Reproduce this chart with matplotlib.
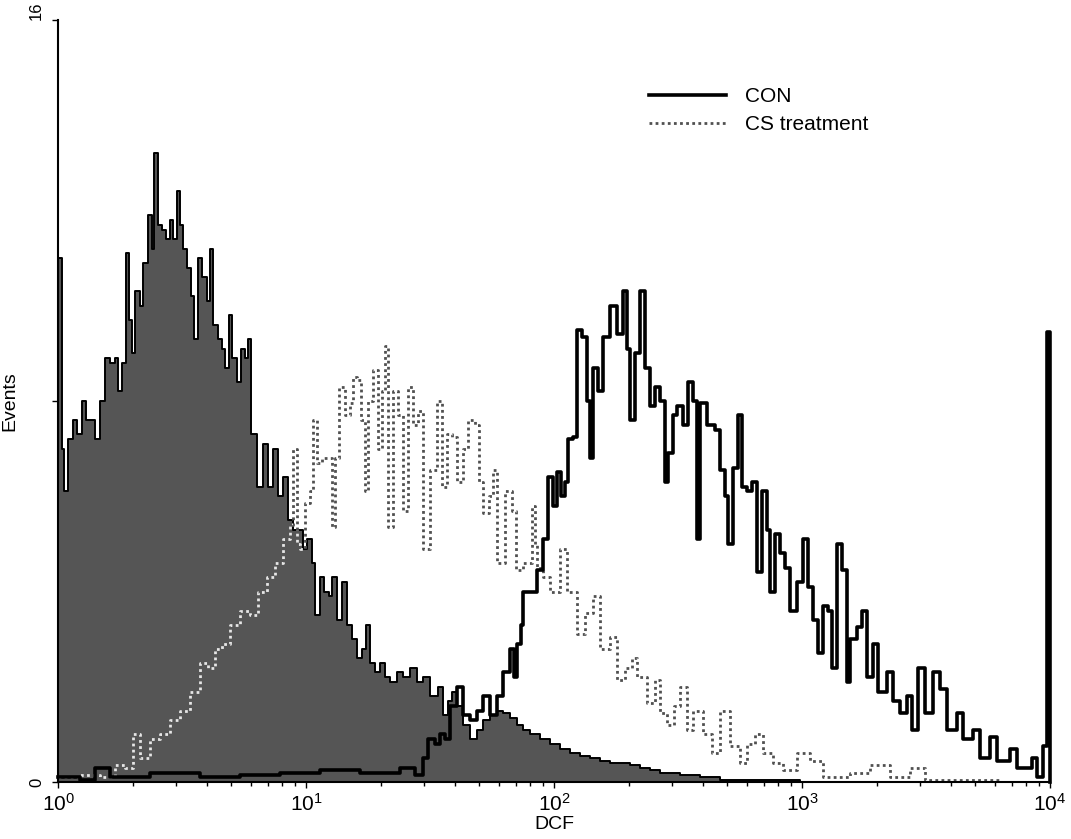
import numpy as np
import matplotlib
matplotlib.use('Agg')
import matplotlib.pyplot as plt
from matplotlib.ticker import LogLocator, NullFormatter

plt.rcParams['font.family'] = ['Liberation Sans', 'DejaVu Sans']
plt.rcParams['mathtext.fontset'] = 'custom'
plt.rcParams['mathtext.rm'] = 'Liberation Sans'

# histogram channels: left edge (log10 DCF) and events

# filled grey histogram (autofluorescence)
grey_logx = [0.000, 0.016, 0.024, 0.040, 0.060, 0.077, 0.097, 0.113, 0.129, 0.149,
             0.169, 0.190, 0.210, 0.230, 0.242, 0.258, 0.274, 0.286, 0.298, 0.310,
             0.331, 0.343, 0.363, 0.379, 0.387, 0.403, 0.419, 0.435, 0.452, 0.464,
             0.480, 0.492, 0.504, 0.520, 0.536, 0.548, 0.565, 0.581, 0.601, 0.613,
             0.625, 0.645, 0.661, 0.673, 0.690, 0.702, 0.722, 0.738, 0.754, 0.766,
             0.778, 0.802, 0.827, 0.847, 0.867, 0.887, 0.907, 0.927, 0.948, 0.968,
             0.988, 1.004, 1.024, 1.036, 1.056, 1.073, 1.093, 1.105, 1.125, 1.145,
             1.165, 1.185, 1.206, 1.226, 1.242, 1.258, 1.278, 1.298, 1.319, 1.339,
             1.367, 1.391, 1.419, 1.448, 1.472, 1.500, 1.532, 1.552, 1.573, 1.589,
             1.609, 1.633, 1.661, 1.690, 1.714, 1.742, 1.770, 1.794, 1.823, 1.851,
             1.875, 1.903, 1.944, 1.984, 2.024, 2.065, 2.105, 2.145, 2.185, 2.226,
             2.266, 2.306, 2.347, 2.387, 2.427, 2.508, 2.589, 2.669, 2.992]
grey_val = [11.0, 7.0, 6.1, 7.2, 7.6, 7.3, 8.0, 7.6, 7.6, 7.2,
            8.0, 8.9, 8.8, 8.9, 8.2, 8.8, 11.1, 9.7, 9.0, 10.3,
            10.0, 10.9, 11.9, 11.2, 13.2, 11.7, 11.6, 11.4, 11.8, 11.4,
            12.4, 11.7, 11.2, 10.8, 10.2, 9.3, 11.0, 10.6, 10.1, 11.2,
            9.6, 9.3, 9.1, 8.7, 9.8, 8.9, 8.4, 9.1, 8.9, 9.3,
            7.3, 6.2, 7.1, 6.2, 7.0, 6.0, 6.4, 5.5, 5.3, 5.3,
            4.9, 5.1, 4.6, 3.5, 4.3, 4.0, 3.9, 4.3, 3.4, 4.2,
            3.3, 3.0, 2.6, 2.8, 3.3, 2.5, 2.3, 2.5, 2.2, 2.1,
            2.3, 2.2, 2.4, 2.1, 2.2, 1.8, 2.0, 1.4, 1.7, 1.9,
            1.6, 1.2, 0.9, 1.1, 1.3, 1.4, 1.5, 1.45, 1.35, 1.2,
            1.1, 1.0, 0.9, 0.8, 0.7, 0.6, 0.55, 0.5, 0.45, 0.4,
            0.4, 0.35, 0.3, 0.25, 0.2, 0.15, 0.1, 0.05, 0.0]

# CON (solid black)
con_logx = [0.000, 0.089, 0.149, 0.210, 0.371, 0.573, 0.734, 0.895, 1.056, 1.218,
            1.379, 1.440, 1.472, 1.492, 1.520, 1.540, 1.560, 1.581, 1.609, 1.633,
            1.661, 1.690, 1.714, 1.742, 1.770, 1.794, 1.823, 1.839, 1.851, 1.867,
            1.875, 1.903, 1.931, 1.956, 1.976, 1.996, 2.012, 2.028, 2.044, 2.056,
            2.077, 2.093, 2.113, 2.133, 2.145, 2.157, 2.177, 2.198, 2.226, 2.254,
            2.278, 2.294, 2.306, 2.327, 2.347, 2.367, 2.387, 2.407, 2.427, 2.448,
            2.460, 2.480, 2.496, 2.520, 2.540, 2.560, 2.577, 2.589, 2.617, 2.649,
            2.669, 2.690, 2.702, 2.722, 2.742, 2.758, 2.778, 2.798, 2.819, 2.839,
            2.859, 2.871, 2.891, 2.911, 2.931, 2.952, 2.980, 3.004, 3.024, 3.044,
            3.065, 3.085, 3.105, 3.121, 3.141, 3.161, 3.181, 3.194, 3.222, 3.242,
            3.262, 3.286, 3.306, 3.343, 3.367, 3.395, 3.423, 3.444, 3.468, 3.496,
            3.528, 3.556, 3.585, 3.625, 3.649, 3.690, 3.718, 3.758, 3.786, 3.839,
            3.867, 3.927, 3.948, 3.972, 3.988]
con_val = [0.1, 0.05, 0.3, 0.1, 0.2, 0.1, 0.15, 0.2, 0.25, 0.2,
           0.3, 0.15, 0.5, 0.9, 0.8, 1.0, 0.9, 1.6, 2.0, 1.4,
           1.3, 1.5, 1.8, 1.4, 1.8, 2.3, 2.8, 2.2, 2.9, 3.3,
           4.0, 4.0, 4.45, 5.1, 6.4, 5.8, 6.5, 6.0, 6.3, 7.2,
           7.25, 9.5, 9.35, 8.0, 6.8, 8.7, 8.2, 9.35, 10.0, 9.4,
           10.3, 9.1, 7.6, 9.0, 10.3, 8.7, 7.9, 8.3, 8.0, 6.3,
           6.9, 7.7, 7.9, 7.5, 8.4, 8.0, 5.1, 7.95, 7.5, 7.4,
           6.55, 6.0, 5.0, 6.6, 7.7, 6.2, 6.1, 6.3, 4.4, 6.1,
           5.3, 4.0, 5.2, 4.8, 4.5, 3.6, 4.2, 5.1, 4.1, 3.4,
           2.7, 3.7, 3.6, 2.4, 5.0, 4.45, 2.1, 3.0, 3.25, 3.6,
           2.2, 2.9, 1.9, 2.3, 1.7, 1.45, 1.8, 1.1, 2.4, 1.45,
           2.3, 1.95, 1.1, 1.45, 0.9, 1.1, 0.5, 0.95, 0.45, 0.7,
           0.3, 0.5, 0.1, 0.75, 9.45]

# CS treatment (dotted)
cs_logx = [0.000, 0.089, 0.169, 0.230, 0.270, 0.302, 0.331, 0.371, 0.411, 0.452,
           0.492, 0.532, 0.573, 0.605, 0.633, 0.661, 0.694, 0.734, 0.774, 0.806,
           0.843, 0.875, 0.907, 0.935, 0.948, 0.964, 0.976, 0.996, 1.016, 1.028,
           1.044, 1.065, 1.089, 1.105, 1.117, 1.133, 1.157, 1.177, 1.190, 1.206,
           1.222, 1.238, 1.250, 1.270, 1.290, 1.306, 1.319, 1.331, 1.351, 1.371,
           1.391, 1.411, 1.431, 1.452, 1.472, 1.500, 1.528, 1.548, 1.569, 1.589,
           1.609, 1.633, 1.653, 1.681, 1.698, 1.714, 1.738, 1.754, 1.770, 1.802,
           1.831, 1.847, 1.875, 1.911, 1.923, 1.931, 1.956, 1.984, 2.024, 2.052,
           2.093, 2.125, 2.157, 2.185, 2.226, 2.254, 2.286, 2.315, 2.335, 2.375,
           2.407, 2.427, 2.456, 2.484, 2.508, 2.536, 2.560, 2.601, 2.637, 2.669,
           2.710, 2.750, 2.778, 2.810, 2.843, 2.883, 2.923, 2.980, 3.032, 3.085,
           3.141, 3.194, 3.274, 3.355, 3.435, 3.496, 3.798]
cs_val = [0.1, 0.15, 0.1, 0.35, 0.3, 1.0, 0.5, 0.9, 1.0, 1.3,
          1.5, 1.9, 2.5, 2.4, 2.8, 2.9, 3.3, 3.6, 3.5, 4.0,
          4.3, 4.6, 5.1, 5.4, 7.0, 5.0, 4.9, 5.85, 6.1, 7.6,
          6.7, 6.8, 6.8, 5.35, 6.8, 8.3, 7.7, 7.95, 8.5, 8.45,
          7.6, 6.1, 8.0, 8.65, 7.0, 8.2, 9.15, 5.35, 8.2, 7.7,
          5.7, 8.3, 7.5, 7.8, 4.9, 6.55, 8.0, 6.2, 7.3, 7.25,
          6.3, 7.0, 7.6, 7.5, 6.3, 5.65, 6.0, 6.55, 4.6, 6.1,
          5.7, 4.45, 4.6, 5.8, 5.0, 4.5, 4.3, 4.0, 4.9, 4.0,
          3.1, 3.55, 3.9, 2.8, 3.05, 2.15, 2.4, 2.6, 2.2, 1.65,
          2.15, 1.45, 1.2, 1.6, 2.0, 1.1, 1.5, 1.0, 0.6, 1.5,
          0.75, 0.4, 0.8, 1.0, 0.6, 0.4, 0.25, 0.6, 0.45, 0.1,
          0.1, 0.2, 0.35, 0.1, 0.3, 0.05, 0.0]

x_end = 4.0


def steps(logx, val):
    # close last channel at the end of the scale and drop to zero
    x = 10 ** np.append(logx, [x_end, x_end])
    y = np.append(val, [val[-1], 0])
    return x, y


fig = plt.figure(figsize=(10.71, 8.39), dpi=100)
ax = fig.add_axes([0.0542, 0.0679, 0.9262, 0.9083])

gx, gy = steps(grey_logx, grey_val)
poly = ax.fill_between(gx, gy, step='post', color='#555555', lw=0)
ax.step(gx, gy, where='post', color='black', lw=1.4)

cx, cy = steps(cs_logx, cs_val)
ax.step(cx, cy, where='post', color='#505050', lw=2, ls=(0, (1, 1.2)),
        label='CS treatment')
# dotted line shows up light where it crosses the filled histogram
wl, = ax.step(cx, cy, where='post', color='#e6e6e6', lw=2, ls=(0, (1, 1.2)))
wl.set_clip_path(poly.get_paths()[0], ax.transData)

kx, ky = steps(con_logx, con_val)
ax.step(kx, ky, where='post', color='black', lw=2.6, label='CON', clip_on=False)

ax.set_xscale('log')
ax.set_xlim(1, 10 ** x_end)
ax.set_ylim(0, 16)

ax.spines['top'].set_visible(False)
ax.spines['right'].set_visible(False)
ax.spines['left'].set_linewidth(1.5)
ax.spines['bottom'].set_linewidth(1.5)

ax.set_xticks([1, 10, 100, 1000, 10000])
ax.set_xticklabels([r'$\mathregular{10^{%d}}$' % k for k in range(5)], fontsize=15)
ax.xaxis.set_minor_locator(LogLocator(base=10, subs=np.arange(2, 10)))
ax.xaxis.set_minor_formatter(NullFormatter())
ax.tick_params(axis='x', which='major', length=4, width=1, pad=4)
ax.tick_params(axis='x', which='minor', length=3, width=1)

ax.set_yticks([0, 8, 16])
ax.set_yticklabels(['0', '', '16'], fontsize=12, rotation=90)
ax.tick_params(axis='y', length=4, width=1, pad=6)
ylabels = ax.get_yticklabels()
ylabels[0].set_va('center')
ylabels[2].set_va('bottom')

ax.set_xlabel('DCF', fontsize=14)
ax.set_ylabel('Events', fontsize=14)
ax.xaxis.set_label_coords(0.5, -0.045)
ax.yaxis.set_label_coords(-0.04, 0.5)

h, l = ax.get_legend_handles_labels()
ax.legend(h[::-1], l[::-1], loc='upper left', bbox_to_anchor=(0.577, 0.936),
          frameon=False, fontsize=15, handlelength=3.7, handletextpad=0.9,
          labelspacing=0.4)

plt.savefig('out.png', dpi=100)
